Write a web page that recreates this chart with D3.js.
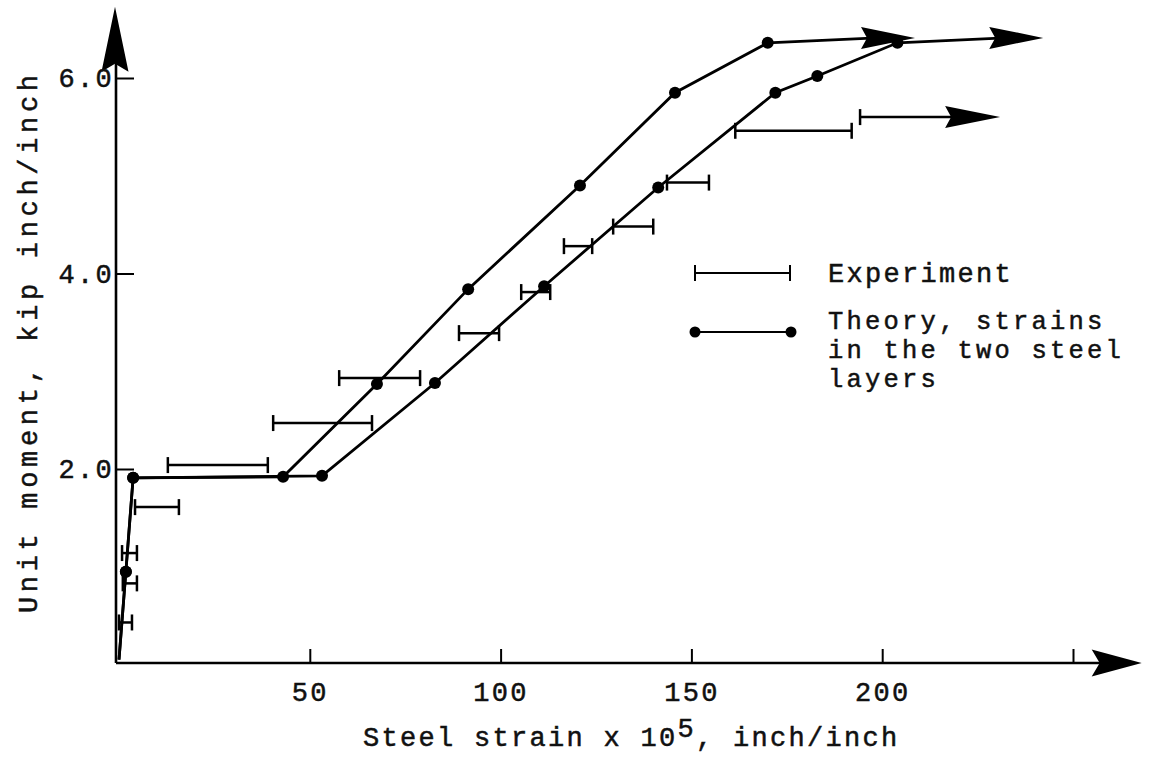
<!DOCTYPE html>
<html>
<head>
<meta charset="utf-8">
<script src="https://cdn.jsdelivr.net/npm/d3@7"></script>
<style>
  body { margin: 0; background: #fff; }
  text { font-family: "Liberation Mono", "DejaVu Sans Mono", monospace; fill: #111; stroke: #111; stroke-width: 0.5px; }
</style>
</head>
<body>
<div id="chart"></div>
<script>
////////////////////////////////////////////////////////////// DATA //////////////////////////////////////////////////////////////
// x: steel strain x 10^5, y: unit moment kip inch/inch
var xTicks = [50, 100, 150, 200, 250];
var xTickLabels = ["50", "100", "150", "200", ""];
var yTicks = [2, 4, 6];
var yTickLabels = ["2.0", "4.0", "6.0"];

// theory, first steel layer (left curve)
var theoryA_x = [0, 1.8, 3.7, 43, 67.6, 91.5, 120.8, 145.7, 170];
var theoryA_y = [0.05, 0.95, 1.91, 1.92, 2.87, 3.84, 4.9, 5.85, 6.36];
var theoryA_arrow = [208.6, 6.41];

// theory, second steel layer (right curve)
var theoryB_x = [0, 1.8, 3.7, 53.2, 82.8, 111.4, 141.3, 172, 183, 204];
var theoryB_y = [0.05, 0.95, 1.91, 1.93, 2.88, 3.87, 4.88, 5.85, 6.02, 6.36];
var theoryB_arrow = [242.2, 6.41];

// experiment: strain range at each moment
var expLow  = [0, 1.0, 0.8, 4.2, 12.8, 40.4, 57.7, 89.1, 105.4, 116.6, 129.5, 143.6, 161.5];
var expHigh = [3.4, 4.7, 4.7, 15.7, 39, 66.3, 78.9, 99.6, 113, 124, 140, 154.6, 192];
var expM    = [0.43, 0.83, 1.14, 1.61, 2.04, 2.47, 2.93, 3.39, 3.81, 4.28, 4.48, 4.93, 5.46];
// last reading, strain still growing
var expLastLow = 194.2, expLastArrow = 230.9, expLastM = 5.6;

var xAxisEnd = 268, yAxisEnd = 6.73;

////////////////////////////////////////////////////////////// CHART //////////////////////////////////////////////////////////////
var w = 1156, h = 757;
var fs = "27px", ls = "2.3px";
var svg = d3.select("#chart").append("svg")
  .attr("width", w).attr("height", h)
  .style("background", "#fff");

var x = d3.scaleLinear().domain([0, 250]).range([119, 1073]);
var y = d3.scaleLinear().domain([0, 6]).range([664.5, 78]);

// arrow head pointing along +x, then rotated
function arrowHead(tx, ty, angle, len, hw, notch) {
  svg.append("path")
    .attr("d", "M0,0 L" + (-len) + "," + (-hw) + " L" + (-len + notch) + ",0 L" + (-len) + "," + hw + " Z")
    .attr("transform", "translate(" + tx + "," + ty + ") rotate(" + angle + ")")
    .attr("fill", "#000");
}

// axes lines
var axisY0 = y(0) - 1.5;
svg.append("line")
  .attr("x1", x(0) - 3).attr("x2", x(xAxisEnd) - 20)
  .attr("y1", axisY0).attr("y2", axisY0)
  .attr("stroke", "#000").attr("stroke-width", 2.6);
arrowHead(x(xAxisEnd), axisY0, 0, 50, 13.5, 8);

svg.append("line")
  .attr("x1", x(0) - 3).attr("x2", x(0) - 3)
  .attr("y1", axisY0).attr("y2", y(yAxisEnd) + 30)
  .attr("stroke", "#000").attr("stroke-width", 2.6);
arrowHead(x(0) - 4, y(yAxisEnd), -90, 65, 13.5, 8);

// x ticks (upward) and labels
var gx = svg.append("g")
  .attr("transform", "translate(0," + axisY0 + ")")
  .call(d3.axisBottom(x).tickValues(xTicks)
    .tickFormat(function(d, i) { return xTickLabels[i]; })
    .tickSizeInner(-14).tickSizeOuter(0).tickPadding(19));
gx.select(".domain").remove();
gx.selectAll(".tick line").attr("stroke", "#000").attr("stroke-width", 2);
gx.selectAll(".tick text").attr("font-size", fs).attr("letter-spacing", ls)
  .style("font-family", "Liberation Mono");

// y ticks (to the right) and labels
var gy = svg.append("g")
  .attr("transform", "translate(" + (x(0) - 3) + ",0)")
  .call(d3.axisLeft(y).tickValues(yTicks)
    .tickFormat(function(d, i) { return yTickLabels[i]; })
    .tickSizeInner(-18).tickSizeOuter(0).tickPadding(2));
gy.select(".domain").remove();
gy.selectAll(".tick line").attr("stroke", "#000").attr("stroke-width", 2);
gy.selectAll(".tick text").attr("font-size", fs).attr("letter-spacing", ls)
  .style("font-family", "Liberation Mono");

// axis titles
var xt = svg.append("text")
  .attr("x", 363).attr("y", 746)
  .attr("font-size", fs)
  .attr("letter-spacing", ls);
xt.append("tspan").text("Steel strain x 10");
xt.append("tspan").attr("dy", -9).text("5");
xt.append("tspan").attr("dy", 9).text(", inch/inch");

svg.append("text")
  .attr("transform", "translate(37,344) rotate(-90)")
  .attr("text-anchor", "middle")
  .attr("font-size", fs)
  .attr("textLength", 538)
  .attr("lengthAdjust", "spacing")
  .text("Unit moment, kip inch/inch");

// theory curves
var line = d3.line().x(function(d) { return x(d[0]); }).y(function(d) { return y(d[1]); });

function theory(xs, ys, arrow) {
  var pts = xs.map(function(v, i) { return [v, ys[i]]; });
  svg.append("path")
    .attr("d", line(pts.concat([[arrow[0] - 10, arrow[1]]])))
    .attr("fill", "none").attr("stroke", "#000").attr("stroke-width", 2.8);
  arrowHead(x(arrow[0]), y(arrow[1]), 0, 54, 11, 6);
  svg.selectAll(null).data(pts.slice(1)).enter().append("circle")
    .attr("cx", function(d) { return x(d[0]); })
    .attr("cy", function(d) { return y(d[1]); })
    .attr("r", 6).attr("fill", "#000");
}
theory(theoryA_x, theoryA_y, theoryA_arrow);
theory(theoryB_x, theoryB_y, theoryB_arrow);

// experiment bars
var capH = 8;
var bars = svg.append("g").attr("stroke", "#000").attr("stroke-width", 2.5);
expM.forEach(function(m, i) {
  var yy = y(m);
  bars.append("line").attr("x1", x(expLow[i])).attr("x2", x(expHigh[i])).attr("y1", yy).attr("y2", yy);
  bars.append("line").attr("x1", x(expLow[i])).attr("x2", x(expLow[i])).attr("y1", yy - capH).attr("y2", yy + capH);
  bars.append("line").attr("x1", x(expHigh[i])).attr("x2", x(expHigh[i])).attr("y1", yy - capH).attr("y2", yy + capH);
});
var yl = y(expLastM);
bars.append("line").attr("x1", x(expLastLow)).attr("x2", x(expLastArrow) - 10).attr("y1", yl).attr("y2", yl);
bars.append("line").attr("x1", x(expLastLow)).attr("x2", x(expLastLow)).attr("y1", yl - capH).attr("y2", yl + capH);
arrowHead(x(expLastArrow), yl, 0, 55, 11, 6);

// legend
var lg = svg.append("g");
lg.append("line").attr("x1", 695).attr("x2", 790).attr("y1", 273).attr("y2", 273)
  .attr("stroke", "#000").attr("stroke-width", 2);
[695, 790].forEach(function(px) {
  lg.append("line").attr("x1", px).attr("x2", px).attr("y1", 273 - capH).attr("y2", 273 + capH)
    .attr("stroke", "#000").attr("stroke-width", 2);
});
lg.append("line").attr("x1", 695).attr("x2", 791).attr("y1", 332).attr("y2", 332)
  .attr("stroke", "#000").attr("stroke-width", 2);
[695, 791].forEach(function(px) {
  lg.append("circle").attr("cx", px).attr("cy", 332).attr("r", 5.5).attr("fill", "#000");
});
lg.append("text").attr("x", 828).attr("y", 282)
  .attr("font-size", fs).attr("letter-spacing", ls).text("Experiment");
// theory label wraps over three lines, a bit smaller so the lines don't collide
var theoryLines = ["Theory, strains", "in the two steel", "layers"];
var tt = lg.append("text").attr("x", 828).attr("y", 329)
  .attr("font-size", "25.5px").attr("letter-spacing", "3.2px");
theoryLines.forEach(function(t, i) {
  tt.append("tspan").attr("x", 828).attr("dy", i === 0 ? 0 : 29).text(t);
});
</script>
</body>
</html>
